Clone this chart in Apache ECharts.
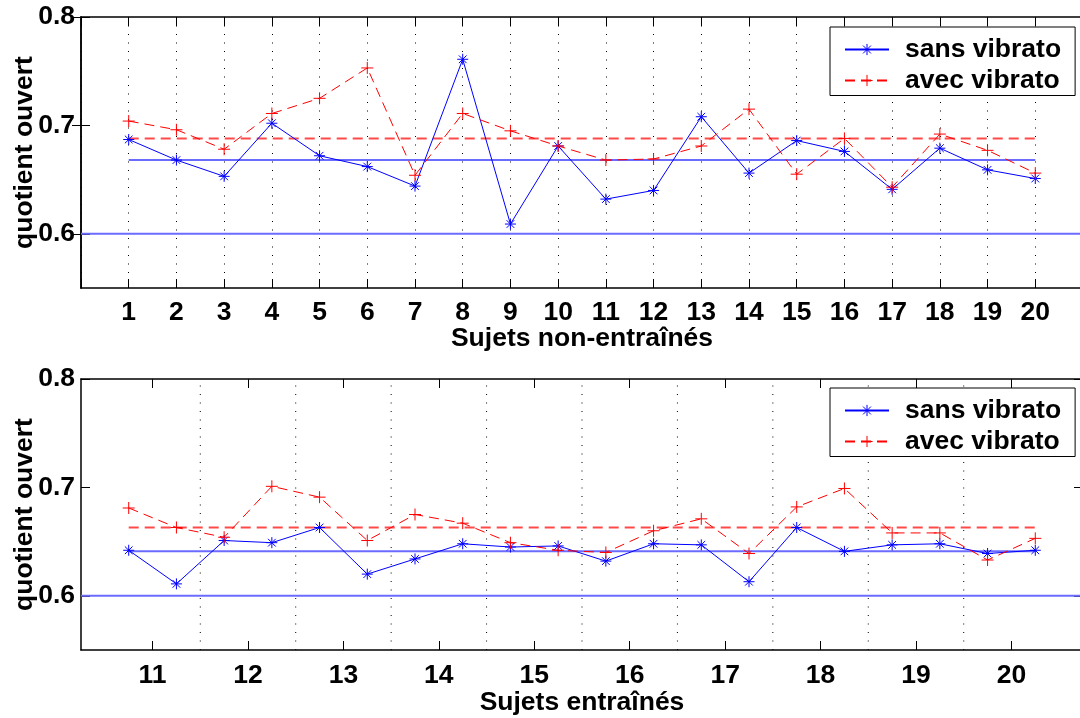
<!DOCTYPE html>
<html><head><meta charset="utf-8">
<script src="https://cdn.jsdelivr.net/npm/echarts@6/dist/echarts.min.js"></script>
<style>html,body{margin:0;padding:0;background:#fff;overflow:hidden}#c{width:1080px;height:718px}</style>
</head><body><div id="c"></div>
<script>
// ---- data ----
const untrainedX = [1,2,3,4,5,6,7,8,9,10,11,12,13,14,15,16,17,18,19,20];
const untrainedSans = [0.687,0.668,0.653,0.702,0.672,0.662,0.644,0.761,0.609,0.681,0.632,0.640,0.708,0.656,0.686,0.676,0.641,0.679,0.659,0.651];
const untrainedAvec = [0.704,0.696,0.678,0.711,0.725,0.753,0.654,0.711,0.695,0.681,0.668,0.669,0.681,0.715,0.655,0.688,0.643,0.692,0.677,0.656];
const untrainedMeanSans = 0.668;
const untrainedMeanAvec = 0.688;

const trainedTicks = [11,12,13,14,15,16,17,18,19,20];
const trainedX = [10.75,11.25,11.75,12.25,12.75,13.25,13.75,14.25,14.75,15.25,15.75,16.25,16.75,17.25,17.75,18.25,18.75,19.25,19.75,20.25];
const trainedSans = [0.642,0.611,0.651,0.649,0.663,0.620,0.634,0.648,0.645,0.646,0.632,0.648,0.647,0.613,0.663,0.641,0.647,0.648,0.639,0.642];
const trainedAvec = [0.681,0.663,0.654,0.701,0.691,0.651,0.675,0.667,0.649,0.642,0.640,0.660,0.671,0.639,0.682,0.699,0.658,0.658,0.633,0.653];
const trainedMeanSans = 0.641;
const trainedMeanAvec = 0.663;
const trainedDividers = [11.5,12.5,13.5,14.5,15.5,16.5,17.5,18.5,19.5];

const yMin = 0.55, yMax = 0.8;
const refLine = 0.6;
const yTicks = [0.6, 0.7, 0.8];
const seriesNames = ['sans vibrato', 'avec vibrato'];
const xTitles = ['Sujets non-entraînés', 'Sujets entraînés'];
const yTitle = 'quotient ouvert';

// ---- styling ----
const FONT = '"Liberation Sans", Arial, Helvetica, sans-serif';
const FS = 26.5;
const BLUE = '#0000ff', RED = '#ff0000';
const BLUE_H = '#6b6bff', RED_H = '#ff4a4a';
const DASH = [10, 6];
const DOT = [1, 7.5];
const STAR = 'path://M5,0L5,10M0,5L10,5M1.5,1.5L8.5,8.5M8.5,1.5L1.5,8.5';
const PLUS = 'path://M5,0L5,10M0,5L10,5';
const txt = {color:'#000', fontSize:FS, fontWeight:'bold', fontFamily:FONT};

const zip = (xs, ys) => xs.map((x, i) => [x, ys[i]]);

const grids = [
  {left:81, top:17, width:1002, height:271, outerBoundsMode:'none', containLabel:false},
  {left:81, top:379, width:1002, height:271, outerBoundsMode:'none', containLabel:false}
];

function xAxes(g, min, max, name, opts) {
  const base = {
    gridIndex:g, type:'value', min:min, max:max,
    axisLine:{show:true, lineStyle:{color:'#000', width:1.5}},
    axisTick:Object.assign({show:true, inside:true, length:9, lineStyle:{color:'#000', width:1}}, opts.tick || {}),
    splitLine:{show:false}
  };
  if (opts.interval) base.interval = opts.interval;
  const bottom = Object.assign({}, base, {
    position:'bottom',
    axisLabel:Object.assign({show:true, margin:opts.margin}, txt, opts.label || {}),
    splitLine: opts.split ? {show:true, lineStyle:{type:DOT, color:'#000', width:1}} : {show:false},
    name:name, nameLocation:'middle', nameGap:opts.nameGap, nameTextStyle:txt, nameMoveOverlap:false
  });
  const top = Object.assign({}, base, {position:'top', axisLabel:{show:false}});
  return [bottom, top];
}
function yAxes(g) {
  const base = {
    gridIndex:g, type:'value', min:yMin, max:yMax,
    axisLine:{show:true, lineStyle:{color:'#000', width:1.5}},
    axisTick:{show:true, inside:true, length:9, customValues:yTicks, lineStyle:{color:'#000', width:1}},
    splitLine:{show:false}
  };
  const left = Object.assign({}, base, {
    position:'left',
    axisLabel:Object.assign({show:true, margin:6, customValues:yTicks, formatter:v => Number(v).toFixed(1)}, txt),
    name:yTitle, nameLocation:'middle', nameGap:43, nameTextStyle:txt, nameMoveOverlap:false
  });
  const right = Object.assign({}, base, {position:'right', axisLabel:{show:false}});
  return [left, right];
}

const xAxis = [].concat(
  xAxes(0, 0, 21, xTitles[0], {interval:1, split:true, nameGap:37, margin:11,
    label:{formatter:v => (v >= 1 && v <= 20) ? String(v) : ''}}),
  xAxes(1, 10.25, 20.75, xTitles[1], {nameGap:39, margin:12,
    label:{customValues:trainedTicks}, tick:{customValues:trainedTicks}})
);
const yAxis = [].concat(yAxes(0), yAxes(1));

function lineSeries(name, xi, yi, data, color, type, width, z, extra) {
  return Object.assign({
    type:'line', name:name, xAxisIndex:xi, yAxisIndex:yi, data:data,
    symbol:'none', showSymbol:false, connectNulls:false,
    lineStyle:{color:color, width:width, type:type},
    itemStyle:{color:color},
    emphasis:{disabled:true}, silent:true, z:z, animation:false
  }, extra || {});
}
function dataSeries(name, xi, yi, xs, ys, color, sym, size, dashed) {
  return lineSeries(name, xi, yi, zip(xs, ys), color, dashed ? DASH : 'solid', 1, 5, {
    symbol:sym, symbolSize:size, showSymbol:true,
    itemStyle:{color:color, borderColor:color, borderWidth:1}
  });
}
const hLine = (x0, x1, m) => [[x0, m], [x1, m]];
const vLines = (xs) => xs.reduce((acc, v) => acc.concat([[v, yMin], [v, yMax], [v, '-']]), []);

const series = [
  lineSeries('_ref', 0, 0, hLine(0, 21, refLine), BLUE_H, 'solid', 2, 3),
  lineSeries('_meanSans', 0, 0, hLine(untrainedX[0], untrainedX[untrainedX.length-1], untrainedMeanSans), BLUE_H, 'solid', 2, 3),
  lineSeries('_meanAvec', 0, 0, hLine(untrainedX[0], untrainedX[untrainedX.length-1], untrainedMeanAvec), RED_H, DASH, 2, 3),
  dataSeries(seriesNames[0], 0, 0, untrainedX, untrainedSans, BLUE, STAR, 11, false),
  dataSeries(seriesNames[1], 0, 0, untrainedX, untrainedAvec, RED, PLUS, 12, true),
  lineSeries('_div', 2, 2, vLines(trainedDividers), '#000', DOT, 1, 2),
  lineSeries('_ref2', 2, 2, hLine(10.25, 20.75, refLine), BLUE_H, 'solid', 2, 3),
  lineSeries('_meanSans2', 2, 2, hLine(trainedX[0], trainedX[trainedX.length-1], trainedMeanSans), BLUE_H, 'solid', 2, 3),
  lineSeries('_meanAvec2', 2, 2, hLine(trainedX[0], trainedX[trainedX.length-1], trainedMeanAvec), RED_H, DASH, 2, 3),
  dataSeries(seriesNames[0], 2, 2, trainedX, trainedSans, BLUE, STAR, 11, false),
  dataSeries(seriesNames[1], 2, 2, trainedX, trainedAvec, RED, PLUS, 12, true)
];

function legend(top) {
  return {
    orient:'vertical', left:830, top:top, data:seriesNames, selectedMode:false,
    itemWidth:44, itemHeight:14, itemGap:4, padding:[9, 14, 1.5, 14],
    borderColor:'#000', borderWidth:1, backgroundColor:'#fff',
    itemStyle:{borderWidth:1},
    textStyle:Object.assign({padding:[0,0,0,11]}, txt), z:10
  };
}

const chart = echarts.init(document.getElementById('c'), null, {renderer:'canvas'});
chart.setOption({
  animation:false,
  backgroundColor:'#fff',
  grid:grids,
  xAxis:xAxis,
  yAxis:yAxis,
  legend:[legend(27), legend(388)],
  series:series
});
</script></body></html>
